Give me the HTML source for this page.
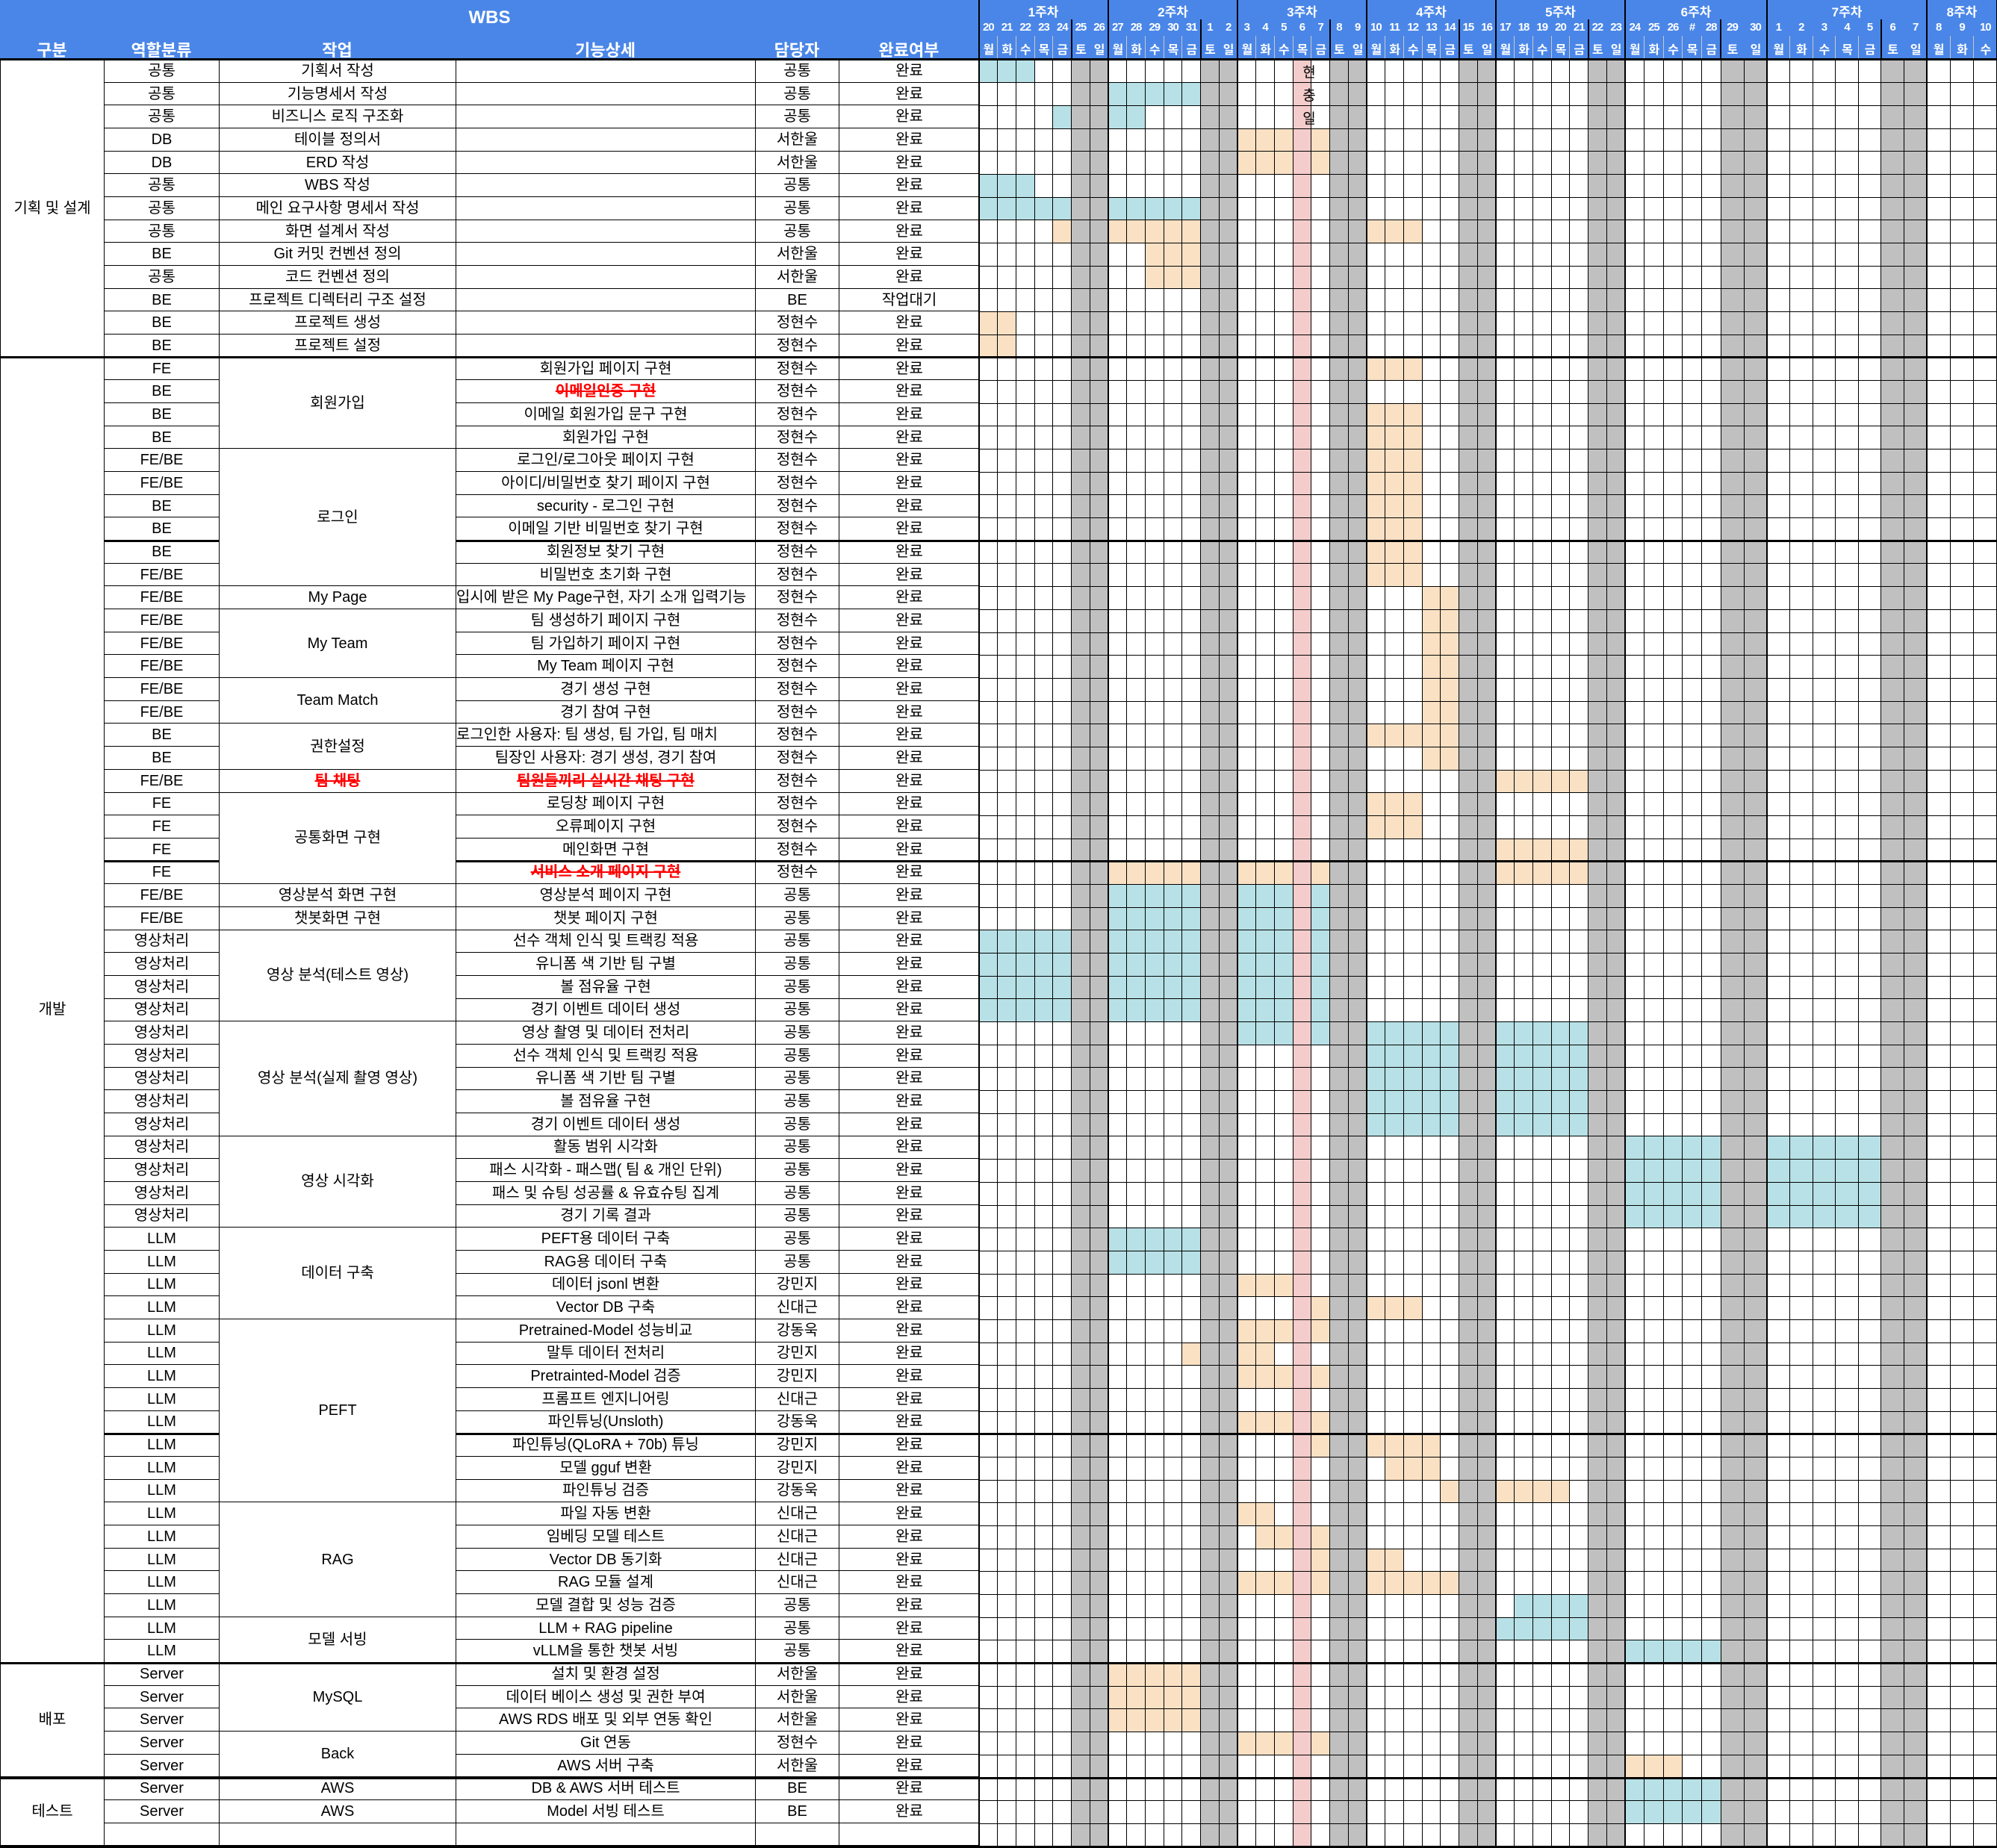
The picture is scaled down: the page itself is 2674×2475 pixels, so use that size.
<!DOCTYPE html>
<html><head><meta charset="utf-8">
<style>
*{margin:0;padding:0;box-sizing:border-box}
body{width:2674px;height:2475px;background:#fff;position:relative;overflow:hidden;font-family:"Liberation Sans","Noto Sans CJK KR",sans-serif}
#hdr{position:absolute;left:0;top:0;width:2674px;height:80px;background:#4a86e8}
.ht{position:absolute;color:#fff;font-weight:bold;font-size:22px;text-align:center;white-space:nowrap}
.g{position:absolute;left:0;top:80px;width:1311px;height:2393px;display:grid;grid-template-columns:139px 154px 317px 401px 112px 188px;grid-template-rows:repeat(78,30.68px);border-left:1px solid #000}
.g>div{border-right:1px solid #000;border-bottom:1px solid #000;display:flex;align-items:center;justify-content:center;white-space:nowrap;overflow:hidden;font-size:20px;color:#000;line-height:1}
.g>div.l{justify-content:flex-start}
.g>div.r{color:#f00;text-decoration:line-through;font-weight:bold}
.s2{grid-row:span 2}.s3{grid-row:span 3}.s4{grid-row:span 4}.s5{grid-row:span 5}.s6{grid-row:span 6}.s8{grid-row:span 8}.s13{grid-row:span 13}.s57{grid-row:span 57}
#gt{position:absolute;left:0;top:0;width:2674px;height:2475px}
#gt div{position:absolute}
.hd{color:#fff;font-weight:bold;text-align:center;white-space:nowrap}
</style></head><body>
<div id="hdr"></div>
<div class="ht" style="left:0;width:1311px;top:10px;font-size:24px">WBS</div>
<div class="ht" style="left:0;width:139px;top:50px">구분</div>
<div class="ht" style="left:139px;width:154px;top:50px">역할분류</div>
<div class="ht" style="left:293px;width:317px;top:50px">작업</div>
<div class="ht" style="left:610px;width:401px;top:50px">기능상세</div>
<div class="ht" style="left:1011px;width:112px;top:50px">담당자</div>
<div class="ht" style="left:1123px;width:188px;top:50px">완료여부</div>

<div class="g">
<div class="s13">기획 및 설계</div><div>공통</div><div>기획서 작성</div><div></div><div>공통</div><div>완료</div>
<div>공통</div><div>기능명세서 작성</div><div></div><div>공통</div><div>완료</div>
<div>공통</div><div>비즈니스 로직 구조화</div><div></div><div>공통</div><div>완료</div>
<div>DB</div><div>테이블 정의서</div><div></div><div>서한울</div><div>완료</div>
<div>DB</div><div>ERD 작성</div><div></div><div>서한울</div><div>완료</div>
<div>공통</div><div>WBS 작성</div><div></div><div>공통</div><div>완료</div>
<div>공통</div><div>메인 요구사항 명세서 작성</div><div></div><div>공통</div><div>완료</div>
<div>공통</div><div>화면 설계서 작성</div><div></div><div>공통</div><div>완료</div>
<div>BE</div><div>Git 커밋 컨벤션 정의</div><div></div><div>서한울</div><div>완료</div>
<div>공통</div><div>코드 컨벤션 정의</div><div></div><div>서한울</div><div>완료</div>
<div>BE</div><div>프로젝트 디렉터리 구조 설정</div><div></div><div>BE</div><div>작업대기</div>
<div>BE</div><div>프로젝트 생성</div><div></div><div>정현수</div><div>완료</div>
<div>BE</div><div>프로젝트 설정</div><div></div><div>정현수</div><div>완료</div>
<div class="s57">개발</div><div>FE</div><div class="s4">회원가입</div><div>회원가입 페이지 구현</div><div>정현수</div><div>완료</div>
<div>BE</div><div class="r">이메일인증 구현</div><div>정현수</div><div>완료</div>
<div>BE</div><div>이메일 회원가입 문구 구현</div><div>정현수</div><div>완료</div>
<div>BE</div><div>회원가입 구현</div><div>정현수</div><div>완료</div>
<div>FE/BE</div><div class="s6">로그인</div><div>로그인/로그아웃 페이지 구현</div><div>정현수</div><div>완료</div>
<div>FE/BE</div><div>아이디/비밀번호 찾기 페이지 구현</div><div>정현수</div><div>완료</div>
<div>BE</div><div>security - 로그인 구현</div><div>정현수</div><div>완료</div>
<div>BE</div><div>이메일 기반 비밀번호 찾기 구현</div><div>정현수</div><div>완료</div>
<div>BE</div><div>회원정보 찾기 구현</div><div>정현수</div><div>완료</div>
<div>FE/BE</div><div>비밀번호 초기화 구현</div><div>정현수</div><div>완료</div>
<div>FE/BE</div><div>My Page</div><div class="l">입시에 받은 My Page구현, 자기 소개 입력기능</div><div>정현수</div><div>완료</div>
<div>FE/BE</div><div class="s3">My Team</div><div>팀 생성하기 페이지 구현</div><div>정현수</div><div>완료</div>
<div>FE/BE</div><div>팀 가입하기 페이지 구현</div><div>정현수</div><div>완료</div>
<div>FE/BE</div><div>My Team 페이지 구현</div><div>정현수</div><div>완료</div>
<div>FE/BE</div><div class="s2">Team Match</div><div>경기 생성 구현</div><div>정현수</div><div>완료</div>
<div>FE/BE</div><div>경기 참여 구현</div><div>정현수</div><div>완료</div>
<div>BE</div><div class="s2">권한설정</div><div class="l">로그인한 사용자: 팀 생성, 팀 가입, 팀 매치</div><div>정현수</div><div>완료</div>
<div>BE</div><div>팀장인 사용자: 경기 생성, 경기 참여</div><div>정현수</div><div>완료</div>
<div>FE/BE</div><div class="r">팀 채팅</div><div class="r">팀원들끼리 실시간 채팅 구현</div><div>정현수</div><div>완료</div>
<div>FE</div><div class="s4">공통화면 구현</div><div>로딩창 페이지 구현</div><div>정현수</div><div>완료</div>
<div>FE</div><div>오류페이지 구현</div><div>정현수</div><div>완료</div>
<div>FE</div><div>메인화면 구현</div><div>정현수</div><div>완료</div>
<div>FE</div><div class="r">서비스 소개 페이지 구현</div><div>정현수</div><div>완료</div>
<div>FE/BE</div><div>영상분석 화면 구현</div><div>영상분석 페이지 구현</div><div>공통</div><div>완료</div>
<div>FE/BE</div><div>챗봇화면 구현</div><div>챗봇 페이지 구현</div><div>공통</div><div>완료</div>
<div>영상처리</div><div class="s4">영상 분석(테스트 영상)</div><div>선수 객체 인식 및 트랙킹 적용</div><div>공통</div><div>완료</div>
<div>영상처리</div><div>유니폼 색 기반 팀 구별</div><div>공통</div><div>완료</div>
<div>영상처리</div><div>볼 점유율 구현</div><div>공통</div><div>완료</div>
<div>영상처리</div><div>경기 이벤트 데이터 생성</div><div>공통</div><div>완료</div>
<div>영상처리</div><div class="s5">영상 분석(실제 촬영 영상)</div><div>영상 촬영 및 데이터 전처리</div><div>공통</div><div>완료</div>
<div>영상처리</div><div>선수 객체 인식 및 트랙킹 적용</div><div>공통</div><div>완료</div>
<div>영상처리</div><div>유니폼 색 기반 팀 구별</div><div>공통</div><div>완료</div>
<div>영상처리</div><div>볼 점유율 구현</div><div>공통</div><div>완료</div>
<div>영상처리</div><div>경기 이벤트 데이터 생성</div><div>공통</div><div>완료</div>
<div>영상처리</div><div class="s4">영상 시각화</div><div>활동 범위 시각화</div><div>공통</div><div>완료</div>
<div>영상처리</div><div>패스 시각화 - 패스맵( 팀 &amp; 개인 단위)</div><div>공통</div><div>완료</div>
<div>영상처리</div><div>패스 및 슈팅 성공률 &amp; 유효슈팅 집계</div><div>공통</div><div>완료</div>
<div>영상처리</div><div>경기 기록 결과</div><div>공통</div><div>완료</div>
<div>LLM</div><div class="s4">데이터 구축</div><div>PEFT용 데이터 구축</div><div>공통</div><div>완료</div>
<div>LLM</div><div>RAG용 데이터 구축</div><div>공통</div><div>완료</div>
<div>LLM</div><div>데이터 jsonl 변환</div><div>강민지</div><div>완료</div>
<div>LLM</div><div>Vector DB 구축</div><div>신대근</div><div>완료</div>
<div>LLM</div><div class="s8">PEFT</div><div>Pretrained-Model 성능비교</div><div>강동욱</div><div>완료</div>
<div>LLM</div><div>말투 데이터 전처리</div><div>강민지</div><div>완료</div>
<div>LLM</div><div>Pretrainted-Model 검증</div><div>강민지</div><div>완료</div>
<div>LLM</div><div>프롬프트 엔지니어링</div><div>신대근</div><div>완료</div>
<div>LLM</div><div>파인튜닝(Unsloth)</div><div>강동욱</div><div>완료</div>
<div>LLM</div><div>파인튜닝(QLoRA + 70b) 튜닝</div><div>강민지</div><div>완료</div>
<div>LLM</div><div>모델 gguf 변환</div><div>강민지</div><div>완료</div>
<div>LLM</div><div>파인튜닝 검증</div><div>강동욱</div><div>완료</div>
<div>LLM</div><div class="s5">RAG</div><div>파일 자동 변환</div><div>신대근</div><div>완료</div>
<div>LLM</div><div>임베딩 모델 테스트</div><div>신대근</div><div>완료</div>
<div>LLM</div><div>Vector DB 동기화</div><div>신대근</div><div>완료</div>
<div>LLM</div><div>RAG 모듈 설계</div><div>신대근</div><div>완료</div>
<div>LLM</div><div>모델 결합 및 성능 검증</div><div>공통</div><div>완료</div>
<div>LLM</div><div class="s2">모델 서빙</div><div>LLM + RAG pipeline</div><div>공통</div><div>완료</div>
<div>LLM</div><div>vLLM을 통한 챗봇 서빙</div><div>공통</div><div>완료</div>
<div class="s5">배포</div><div>Server</div><div class="s3">MySQL</div><div>설치 및 환경 설정</div><div>서한울</div><div>완료</div>
<div>Server</div><div>데이터 베이스 생성 및 권한 부여</div><div>서한울</div><div>완료</div>
<div>Server</div><div>AWS RDS 배포 및 외부 연동 확인</div><div>서한울</div><div>완료</div>
<div>Server</div><div class="s2">Back</div><div>Git 연동</div><div>정현수</div><div>완료</div>
<div>Server</div><div>AWS 서버 구축</div><div>서한울</div><div>완료</div>
<div class="s3">테스트</div><div>Server</div><div>AWS</div><div>DB &amp; AWS 서버 테스트</div><div>BE</div><div>완료</div>
<div>Server</div><div>AWS</div><div>Model 서빙 테스트</div><div>BE</div><div>완료</div>
<div></div><div></div><div></div><div></div><div></div>
</div>

<div id="gt">
<div class="hd" style="left:1311px;width:172px;top:2px;font-size:17px">1주차</div>
<div class="hd" style="left:1484px;width:173px;top:2px;font-size:17px">2주차</div>
<div class="hd" style="left:1657px;width:173px;top:2px;font-size:17px">3주차</div>
<div class="hd" style="left:1830px;width:173px;top:2px;font-size:17px">4주차</div>
<div class="hd" style="left:2003px;width:173px;top:2px;font-size:17px">5주차</div>
<div class="hd" style="left:2176px;width:190px;top:2px;font-size:17px">6주차</div>
<div class="hd" style="left:2366px;width:214px;top:2px;font-size:17px">7주차</div>
<div class="hd" style="left:2580px;width:94px;top:2px;font-size:17px">8주차</div>
<div class="hd" style="left:1011px;top:0"></div>
<div style="left:1720px;top:80px;width:1px"></div>
</div>
<div id="hx" style="position:absolute;left:0;top:0"></div>
<div id="txt" style="position:absolute;left:0;top:0">
<div class="hd" style="position:absolute;left:1741px;width:24px;top:82px;font-size:19px;color:#000;font-weight:normal">현</div>
<div class="hd" style="position:absolute;left:1741px;width:24px;top:113px;font-size:19px;color:#000;font-weight:normal">충</div>
<div class="hd" style="position:absolute;left:1741px;width:24px;top:144px;font-size:19px;color:#000;font-weight:normal">일</div>
</div>
<script>
(function(){
var W=[],i;
for(i=0;i<35;i++)W.push(865/35);
for(i=0;i<5;i++)W.push(25.6);W.push(31);W.push(31);
for(i=0;i<7;i++)W.push(214/7);
for(i=0;i<3;i++)W.push(94/3);
var X=[1311];for(i=0;i<W.length;i++)X.push(X[i]+W[i]);
var dates=['20','21','22','23','24','25','26','27','28','29','30','31','1','2','3','4','5','6','7','8','9','10','11','12','13','14','15','16','17','18','19','20','21','22','23','24','25','26','#','28','29','30','1','2','3','4','5','6','7','8','9','10'];
var dn=['월','화','수','목','금','토','일'];
var H=30.68,T=80,NR=78;
var hx=document.getElementById('hx'),h='';
function box(l,t,w,hh,c,extra){h+='<div style="position:absolute;left:'+l.toFixed(2)+'px;top:'+t.toFixed(2)+'px;width:'+w.toFixed(2)+'px;height:'+hh.toFixed(2)+'px;background:'+c+';'+(extra||'')+'"></div>';}
function txt(l,t,w,s,fs){h+='<div style="position:absolute;left:'+l.toFixed(2)+'px;top:'+t+'px;width:'+w.toFixed(2)+'px;text-align:center;color:#fff;font-weight:bold;font-size:'+fs+'px;white-space:nowrap;letter-spacing:-1px">'+s+'</div>';}
var BOT=T+NR*H;
// weekend and pink columns
for(i=0;i<52;i++){var d=i%7;if(i<49&&(d==5||d==6))box(X[i],T,W[i],BOT-T,'#c0c0c0');if(i==17)box(X[i],T,W[i],BOT-T,'#f4cccc');}
var C='#b7e1e6',P='#fbe1c4';
function rg(a,b){var r=[];for(var k=a;k<=b;k++)r.push(k);return r;}
var D={};
function set(rows,col,days){rows.forEach(function(r){D[r]=(D[r]||[]).concat(days.map(function(x){return [x,col];}));});}
set([0,5],C,rg(0,2));set([1],C,rg(7,11));set([2],C,[4,7,8]);
set([3,4],P,[14,15,16,18]);set([6],C,rg(0,4).concat(rg(7,11)));
set([7],P,[4].concat(rg(7,11),rg(21,23)));set([8,9],P,rg(9,11));set([11,12],P,[0,1]);
set([13,15,16,17,18,19,20,21,22,32,33],P,rg(21,23));
set([23,24,25,26,27,28,30],P,[24,25]);set([29],P,rg(21,25));
set([31,34],P,rg(28,32));set([35],P,rg(7,11).concat([14,15,16,18],rg(28,32)));
set([36,37],C,rg(7,11).concat([14,15,16,18]));
set([38,39,40,41],C,rg(0,4).concat(rg(7,11),[14,15,16,18]));
set([42],C,[14,15,16,18]);set([42,43,44,45,46],C,rg(21,25).concat(rg(28,32)));
set([47,48,49,50],C,rg(35,39).concat(rg(42,46)));
set([51,52],C,rg(7,11));set([53],P,[14,15,16]);set([54],P,[18,21,22,23]);
set([55,57,59,73],P,[14,15,16,18]);set([56],P,[11,14,15]);
set([60],P,[18,21,22,23,24]);set([61],P,[22,23,24]);set([62],P,[25,28,29,30,31]);
set([63],P,[14,15]);set([64],P,[15,16,18]);set([65],P,[18,21,22]);
set([66],P,[14,15,16,18].concat(rg(21,25)));
set([67],C,rg(29,32));set([68],C,rg(28,32));set([69,75,76],C,rg(35,39));
set([70,71,72],P,rg(7,11));set([74],P,[35,36,37]);
for(var r in D){D[r].forEach(function(e){if(e[0]!=17)box(X[e[0]],T+r*H,W[e[0]],H,e[1]);});}
// vertical day lines
for(i=0;i<=52;i++){var wk=(i%7==0)||i==52||i==49;box(X[i]-(wk?1:0.5),T,wk?2:1,BOT-T,'#000');}
// header lines
for(i=0;i<=52;i++){var wk2=(i%7==0)||i==52||i==49;if(wk2)box(X[i]-1,0,2,80,'#000');}
for(i=0;i<52;i++){var dd=i%7;if(i<49&&dd==5)box(X[i]-1,26,2,54,'#000');else if(i%7!=0&&!(i<49&&dd==6))box(X[i]-0.5,48,1,32,'#c8c8c8');
 if(i>=49&&i%7!=0)box(X[i]-0.5,48,1,32,'#c8c8c8');}
for(i=0;i<52;i++){txt(X[i],28,W[i],dates[i],15);txt(X[i],53,W[i],dn[i%7],16);}
// horizontal row lines
for(i=1;i<NR;i++)box(1311,T+i*H-0.5,2674-1311,1,'#000');
// thick lines
box(0,T-2,2674,3,'#000');box(1310,T,2,BOT-T,'#000');
[13,70,75].forEach(function(k){box(0,T+k*H-1.5,2674,3,'#000');});
[21,35,60].forEach(function(k){box(139,T+k*H-1.5,154,3,'#000');box(610,T+k*H-1.5,2064,3,'#000');});
box(0,BOT-1.5,2674,3,'#000');
hx.innerHTML=h;
})();
</script>
</body></html>
